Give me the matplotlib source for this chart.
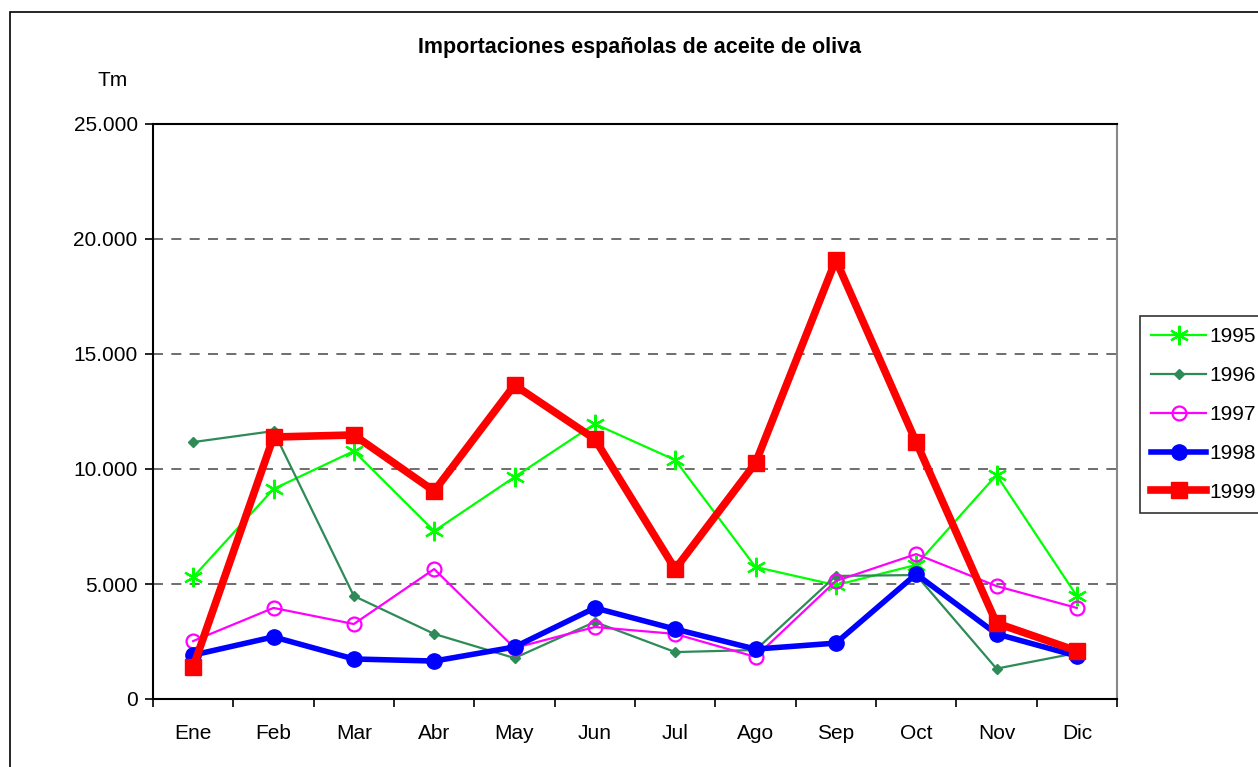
import matplotlib.pyplot as plt
import matplotlib.ticker as mticker
from matplotlib.patches import Rectangle
import numpy as np

plt.rcParams['font.family'] = ['Liberation Sans', 'DejaVu Sans']

meses = ["Ene", "Feb", "Mar", "Abr", "May", "Jun", "Jul", "Ago", "Sep", "Oct", "Nov", "Dic"]
y1995 = [5300, 9130, 10780, 7300, 9650, 11960, 10390, 5740, 4950, 5830, 9740, 4480]
y1996 = [11170, 11650, 4480, 2830, 1780, 3350, 2040, 2130, 5350, 5390, 1320, 2000]
y1997 = [2520, 3960, 3260, 5650, 2220, 3130, 2830, 1830, 5130, 6300, 4910, 3960]
y1998 = [1910, 2700, 1740, 1650, 2260, 3960, 3040, 2170, 2430, 5430, 2830, 1870]
y1999 = [1390, 11390, 11480, 9040, 13650, 11300, 5650, 10260, 19090, 11170, 3300, 2090]

fig = plt.figure(figsize=(12.58, 7.67), dpi=100)
fig.patches.append(Rectangle((10 / 1258, -0.05), 1.1, (767 - 12) / 767 + 0.05,
                             transform=fig.transFigure, fill=False,
                             edgecolor='black', linewidth=1.2))
ax = fig.add_axes([153 / 1258, 68 / 767, 964 / 1258, 575 / 767])

x = np.arange(1, 13)
ax.plot(x, y1995, color='#00ff00', lw=1.6, marker=(6, 2, 0), ms=14, mew=1.6, label='1995')
ax.plot(x, y1996, color='#2e8b57', lw=1.6, marker='D', ms=5, label='1996')
ax.plot(x, y1997, color='#ff00ff', lw=1.6, marker='o', ms=10, mfc='none', mew=1.6, label='1997')
ax.plot(x, y1998, color='#0000ff', lw=4, marker='o', ms=11, label='1998')
ax.plot(x, y1999, color='#ff0000', lw=5.5, marker='s', ms=12, label='1999')

ax.set_xlim(0.5, 12.5)
ax.set_ylim(0, 25000)
ax.yaxis.set_major_locator(mticker.MultipleLocator(5000))
ax.yaxis.set_major_formatter(mticker.FuncFormatter(
    lambda v, p: '0' if v == 0 else f"{int(v):,}".replace(',', '.')))
for v in range(5000, 25000, 5000):
    ax.axhline(v, color='#555555', lw=1.2, ls=(0, (6, 5)), zorder=0)

ax.set_xticks(np.arange(0.5, 13, 1))
ax.set_xticklabels([])
ax.set_xticks(x, minor=True)
ax.set_xticklabels(meses, minor=True)
ax.tick_params(axis='x', which='minor', length=0, pad=18, labelsize=15)
ax.tick_params(axis='x', which='major', length=6, width=1.2, direction='out')
ax.tick_params(axis='y', length=6, width=1.2, labelsize=15, pad=5)

for s in ['left', 'bottom', 'top']:
    ax.spines[s].set_linewidth(1.5)
ax.spines['right'].set_color('#888888')
ax.spines['right'].set_linewidth(1.5)

fig.text(640 / 1258, 1 - 47 / 767, 'Importaciones españolas de aceite de oliva',
         ha='center', va='center', fontsize=15.5, fontweight='bold')
fig.text(113 / 1258, 1 - 80 / 767, 'Tm', ha='center', va='center', fontsize=15)

leg = fig.legend(loc='upper left', bbox_to_anchor=(1140 / 1258, 1 - 316 / 767),
                 frameon=True, fancybox=False, edgecolor='black', fontsize=15,
                 handlelength=2.6, labelspacing=0.95, borderpad=0.55,
                 handletextpad=0.2, borderaxespad=0)
leg.get_frame().set_linewidth(1.2)

fig.savefig('out.png', dpi=100)
